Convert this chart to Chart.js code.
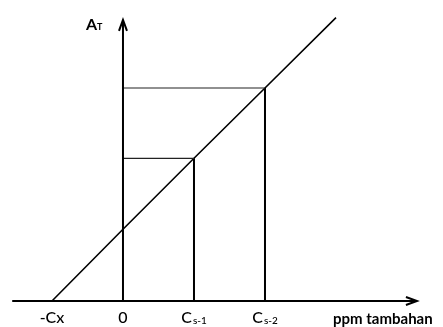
<!DOCTYPE html>
<html>
<head>
<meta charset="utf-8">
<script src="https://cdn.jsdelivr.net/npm/chart.js@4/dist/chart.umd.min.js"></script>
<style>
  html, body { margin: 0; padding: 0; background: #fff; }
  #wrap { width: 443px; height: 327px; }
</style>
</head>
<body>
<div id="wrap"><canvas id="chart"></canvas></div>
<script>
// Standard addition: concentration added (x) vs absorbance (y)
const tickMain = ['-Cx', '0', 'C', 'C'];
const tickSub = ['', '', 's-1', 's-2'];
const concValues = [-1, 0, 1, 2];
const absValues = [0, 1.01, 2.01, 3.0];

// regression line runs past the last standard
const fitX = [-1, 0, 1, 2, 3];
const fitY = [0, 1.01, 2.01, 3.0, 3.99];

// axis extents (data units)
const xAxisRange = [-1.56, 4.14];
const yAxisRange = [0, 3.96];

const xTitle = 'ppm tambahan';
const yTitle = 'A';
const yTitleSub = 'T';

const FONT = 'Lato, "Open Sans", sans-serif';

function pts(xs, ys) {
    return xs.map((x, i) => ({ x: x, y: ys[i] }));
}

// per standard: thin horizontal from the y-axis, heavier drop line to the x-axis
const boxSets = [];
[2, 3].forEach(i => {
    boxSets.push({
        data: [{ x: 0, y: absValues[i] }, { x: concValues[i], y: absValues[i] }],
        borderColor: '#222',
        borderWidth: 1.2
    });
    boxSets.push({
        data: [{ x: concValues[i], y: absValues[i] }, { x: concValues[i], y: 0 }],
        borderColor: '#000',
        borderWidth: 2
    });
});

// arrowheads + labels drawn on top, positioned from the scales
const annotate = {
    id: 'annotate',
    afterDatasetsDraw(chart) {
        const { ctx, scales: { x, y } } = chart;
        ctx.save();
        ctx.strokeStyle = '#000';
        ctx.lineWidth = 2;

        // x-axis arrow
        const xe = x.getPixelForValue(xAxisRange[1]);
        const y0 = y.getPixelForValue(0);
        ctx.beginPath();
        ctx.moveTo(xe - 11, y0 - 4);
        ctx.lineTo(xe, y0);
        ctx.lineTo(xe - 11, y0 + 4);
        ctx.stroke();

        // y-axis arrow
        const x0 = x.getPixelForValue(0);
        const ye = y.getPixelForValue(yAxisRange[1]);
        ctx.beginPath();
        ctx.moveTo(x0 - 4, ye + 11);
        ctx.lineTo(x0, ye);
        ctx.lineTo(x0 + 4, ye + 11);
        ctx.stroke();

        ctx.fillStyle = '#000';
        ctx.textBaseline = 'alphabetic';
        const base = y.getPixelForValue(0) + 22;
        concValues.forEach((v, i) => {
            ctx.font = '500 16px ' + FONT;
            const mw = ctx.measureText(tickMain[i]).width;
            ctx.font = '500 10px ' + FONT;
            const sw = tickSub[i] ? ctx.measureText(tickSub[i]).width + 1 : 0;
            let px = x.getPixelForValue(v) - (mw + sw) / 2;
            ctx.font = '500 16px ' + FONT;
            ctx.fillText(tickMain[i], px, base);
            if (tickSub[i]) {
                ctx.font = '500 10px ' + FONT;
                ctx.fillText(tickSub[i], px + mw + 1, base + 1);
            }
        });

        ctx.font = 'bold 15px ' + FONT;
        ctx.textAlign = 'left';
        ctx.fillText(xTitle, 333, base + 1);

        ctx.font = 'bold 16px ' + FONT;
        ctx.fillText(yTitle, 86, 30);
        ctx.font = 'bold 9px ' + FONT;
        ctx.fillText(yTitleSub, 97, 30);
        ctx.restore();
    }
};

new Chart(document.getElementById('chart'), {
    type: 'scatter',
    data: {
        datasets: [
            {   // x axis
                data: [{ x: xAxisRange[0], y: 0 }, { x: xAxisRange[1], y: 0 }],
                borderColor: '#000',
                borderWidth: 2
            },
            {   // y axis
                data: [{ x: 0, y: yAxisRange[0] }, { x: 0, y: yAxisRange[1] }],
                borderColor: '#000',
                borderWidth: 2
            },
            ...boxSets,
            {   // calibration line
                data: pts(fitX, fitY),
                borderColor: '#000',
                borderWidth: 1.6
            }
        ].map(d => Object.assign({ showLine: true, pointRadius: 0, fill: false, tension: 0 }, d))
    },
    options: {
        responsive: true,
        maintainAspectRatio: false,
        animation: false,
        layout: { padding: 0 },
        scales: {
            x: { type: 'linear', display: false, min: -1.732, max: 4.507 },
            y: { type: 'linear', display: false, min: -0.366, max: 4.239 }
        },
        plugins: { legend: { display: false }, tooltip: { enabled: false } }
    },
    plugins: [annotate]
});
</script>
</body>
</html>
